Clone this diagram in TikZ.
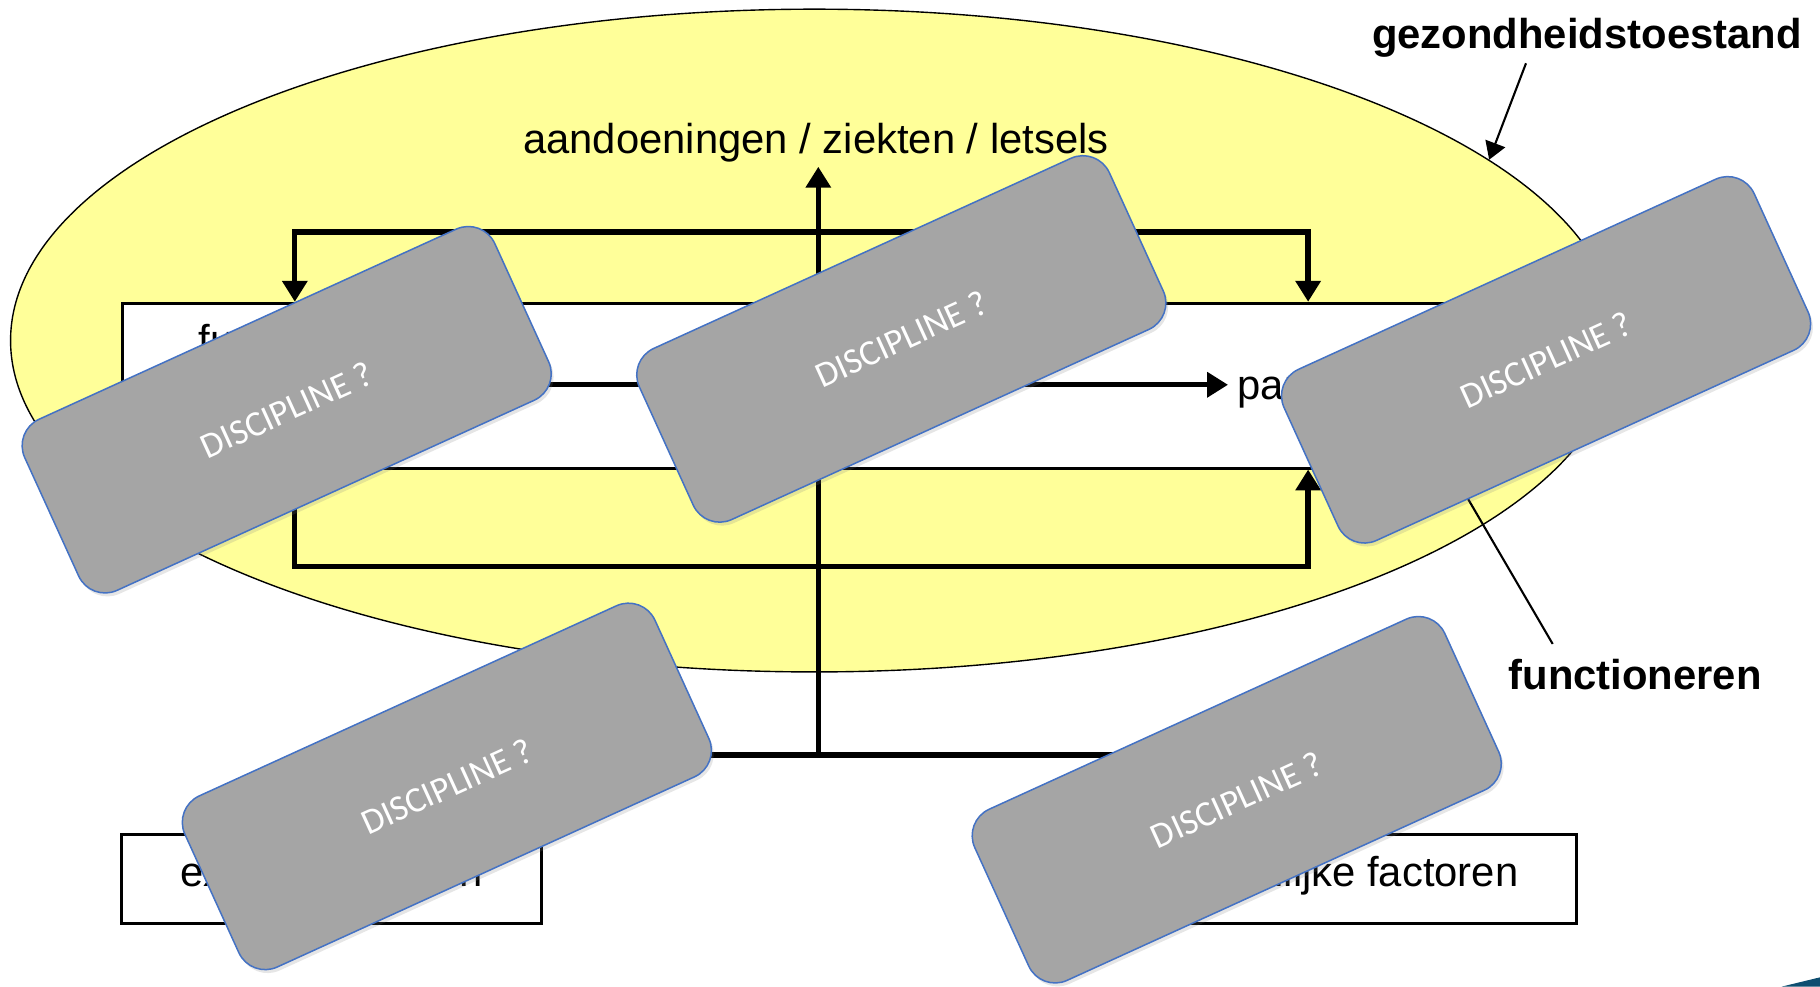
\documentclass[tikz,border=0pt]{standalone}
\usepackage{fontspec}
\setmainfont{Liberation Sans}
\newfontfamily\carlito{Carlito}
\usetikzlibrary{calc,positioning,shapes.geometric,arrows.meta,shadows}
\definecolor{healthyellow}{RGB}{255,255,153}
\definecolor{covergray}{RGB}{165,165,165}
\definecolor{coverblue}{RGB}{68,114,196}
\definecolor{slideblue}{RGB}{14,78,112}

\begin{document}
\begin{tikzpicture}[x=1pt, y=-1pt,
        plain text/.style = {font=\fontsize{36}{43}\selectfont, inner sep=0pt},
        bold text/.style  = {font=\bfseries\fontsize{36}{43}\selectfont, inner sep=0pt},
        bracket/.style    = {line width=4.6pt, {Triangle[width=21pt,length=18pt]}-{Triangle[width=21pt,length=18pt]}},
        one way/.style    = {line width=4.6pt, -{Triangle[width=21pt,length=18pt]}},
        pointer/.style    = {line width=1.8pt, -{Triangle[width=18pt,length=15pt]}},
        factor box/.style = {draw, line width=2.8pt, fill=white, minimum height=76.7pt, text height=26pt, text depth=12pt, inner sep=0pt, font=\fontsize{36}{43}\selectfont},
        cover/.style      = {draw=coverblue, line width=1.3pt, fill=covergray, rounded corners=25pt, minimum width=445pt, minimum height=162pt, rotate=24.5, text=white, font=\carlito\fontsize{31}{37}\selectfont, drop shadow={shadow xshift=2pt, shadow yshift=-3pt, opacity=.2}}]
        \useasboundingbox (0,0) rectangle (1568,850);

        \node[draw, line width=1.2pt, fill=healthyellow, ellipse, minimum width=1385pt, minimum height=571pt, inner sep=0pt] (health) at (701.6,293.4) {};
        \node[bold text, anchor=base west]                        (state label)   at (1182,41.6)  {gezondheidstoestand};
        \coordinate                                               (state tail)    at (1314.7,54.5);
        \draw[pointer] (state tail) -- (health.15);

        \node[plain text, anchor=base]                            (condition)     at (703,132)    {aandoeningen / ziekten / letsels};
        \node[draw, line width=2.5pt, fill=white, minimum width=1158pt, minimum height=142pt, inner sep=0pt, anchor=north west] (frame) at (104,260) {};
        \node[plain text, anchor=base west]                       (functions)     at (171,305)    {functies};
        \node[plain text, anchor=base west]                       (participation) at (1066,344.6) {participatie};

        \coordinate (top left)  at (254,200);
        \coordinate (top right) at (1127,200);
        \coordinate (low left)  at (254,488);
        \coordinate (low right) at (1127,488);
        \coordinate (hub)       at (705,650.5);

        \draw[bracket] (top left |- frame.north) -- (top left) -- (top right) -- (top right |- frame.north);
        \draw[bracket] (low left |- frame.south) -- (low left) -- (low right) -- (low right |- frame.south);
        \draw[one way, shorten >=8pt] (functions.east |- 0,331.5) -- (participation.west |- 0,331.5);

        \node[factor box, minimum width=362pt]   (external) at (285.75,757.15) {externe factoren};
        \node[factor box, minimum width=432.8pt] (personal) at (1142,757.15)   {persoonlijke factoren};
        \draw[line width=4.6pt] (external.north) |- (hub) -| (personal.north);
        \draw[one way, shorten >=4pt] (hub) -- (hub |- condition.south);

        \node[bold text, anchor=base west] (functioning) at (1299.5,593.9) {functioneren};
        \coordinate (functioning tail) at (1337.7,554.8);
        \coordinate (frame tail)       at (1248.5,402);
        \draw[line width=1.8pt] (functioning tail) -- (frame tail);

        \foreach \cx/\cy [count=\i] in {247/353, 776.5/292, 1332/310, 385/677.5, 1065.5/689}
            \node[cover] (cover \i) at (\cx,\cy) {DISCIPLINE ?};

        \fill[slideblue] (1535,850) -- (1568,842) -- (1568,850) -- cycle;
\end{tikzpicture}
\end{document}
